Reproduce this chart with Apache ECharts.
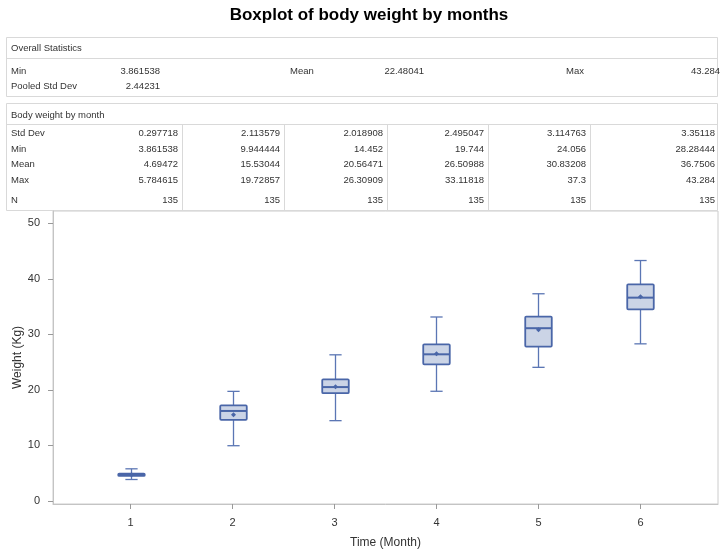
<!DOCTYPE html>
<html>
<head>
<meta charset="utf-8">
<title>Boxplot of body weight by months</title>
<script src="https://cdn.jsdelivr.net/npm/echarts@6/dist/echarts.min.js"></script>
<style>
  html, body { margin: 0; padding: 0; background: #fff; }
  #chart { width: 721px; height: 553px; }
</style>
</head>
<body>
<div id="chart"></div>
<script>
// months on the x axis
const months = [1, 2, 3, 4, 5, 6]
const yTicks = [0, 10, 20, 30, 40, 50]

// per month statistics (from the table)
const stdDev = [0.297718, 2.113579, 2.018908, 2.495047, 3.114763, 3.35118]
const minW = [3.861538, 9.944444, 14.452, 19.744, 24.056, 28.28444]
const meanW = [4.69472, 15.53044, 20.56471, 26.50988, 30.83208, 36.7506]
const maxW = [5.784615, 19.72857, 26.30909, 33.11818, 37.3, 43.284]
const countN = [135, 135, 135, 135, 135, 135]

// quartiles
const q1W = [4.5, 14.6, 19.4, 24.6, 27.8, 34.5]
const medianW = [4.7, 16.2, 20.5, 26.4, 31.1, 36.6]
const q3W = [4.9, 17.2, 21.9, 28.2, 33.2, 39.0]

// overall statistics
const overallMin = 3.861538
const overallMean = 22.48041
const overallMax = 43.284
const pooledStd = 2.44231

const fontFamily = '"Liberation Sans", Arial, sans-serif'
const tableFont = '9.5px ' + fontFamily
const textColor = '#333'
const lineColor = '#d9d9d9'
const boxStroke = '#4a66a8'
const whiskerStroke = '#5b76b4'
const boxFill = '#cbd4e6'

function cellText(str, x, y, align) {
  return {
    type: 'text',
    silent: true,
    style: { text: String(str), x: x, y: y, align: align || 'left', verticalAlign: 'middle', font: tableFont, fill: textColor }
  }
}

function line(x1, y1, x2, y2) {
  return {
    type: 'line',
    silent: true,
    shape: { x1: x1, y1: y1, x2: x2, y2: y2 },
    style: { stroke: lineColor, lineWidth: 1 }
  }
}

function buildTables() {
  const els = []
  // overall statistics
  els.push({ type: 'rect', silent: true, shape: { x: 6.5, y: 37.5, width: 711, height: 59 }, style: { fill: 'none', stroke: lineColor } })
  els.push(line(6.5, 58.5, 717.5, 58.5))
  els.push(cellText('Overall Statistics', 11, 48))
  els.push(cellText('Min', 11, 71))
  els.push(cellText(overallMin, 160, 71, 'right'))
  els.push(cellText('Mean', 290, 71))
  els.push(cellText(overallMean, 424, 71, 'right'))
  els.push(cellText('Max', 566, 71))
  els.push(cellText(overallMax, 720, 71, 'right'))
  els.push(cellText('Pooled Std Dev', 11, 86))
  els.push(cellText(pooledStd, 160, 86, 'right'))

  // body weight by month
  const rowLabels = ['Std Dev', 'Min', 'Mean', 'Max', 'N']
  const rows = [stdDev, minW, meanW, maxW, countN]
  const rowY = [133, 149, 164, 180, 200]
  const colRight = [178, 280, 383, 484, 586, 715]
  const colDiv = [182, 284, 387, 488, 590]
  els.push({ type: 'rect', silent: true, shape: { x: 6.5, y: 103.5, width: 711, height: 107 }, style: { fill: 'none', stroke: lineColor } })
  els.push(line(6.5, 124.5, 717.5, 124.5))
  els.push(cellText('Body weight by month', 11, 115))
  colDiv.forEach(x => els.push(line(x + 0.5, 124.5, x + 0.5, 210.5)))
  rowLabels.forEach((lab, r) => {
    els.push(cellText(lab, 11, rowY[r]))
    rows[r].forEach((v, c) => els.push(cellText(v, colRight[c], rowY[r], 'right')))
  })
  return els
}

const boxData = months.map((m, i) => [m, minW[i], q1W[i], medianW[i], q3W[i], maxW[i], meanW[i]])

function renderBox(params, api) {
  const x = api.value(0)
  const lo = api.coord([x, api.value(1)])
  const q1 = api.coord([x, api.value(2)])
  const med = api.coord([x, api.value(3)])
  const q3 = api.coord([x, api.value(4)])
  const hi = api.coord([x, api.value(5)])
  const mean = api.coord([x, api.value(6)])
  const bw = api.size([0.26, 0])[0]
  const cw = api.size([0.12, 0])[0]
  const cx = Math.round(lo[0]) + 0.5
  const lineStyle = { stroke: whiskerStroke, lineWidth: 1.3 }
  const d = 2.5
  return {
    type: 'group',
    children: [
      { type: 'line', shape: { x1: cx, y1: hi[1], x2: cx, y2: q3[1] }, style: lineStyle },
      { type: 'line', shape: { x1: cx, y1: q1[1], x2: cx, y2: lo[1] }, style: lineStyle },
      { type: 'line', shape: { x1: cx - cw / 2, y1: hi[1], x2: cx + cw / 2, y2: hi[1] }, style: lineStyle },
      { type: 'line', shape: { x1: cx - cw / 2, y1: lo[1], x2: cx + cw / 2, y2: lo[1] }, style: lineStyle },
      {
        type: 'rect',
        shape: { x: cx - bw / 2, y: q3[1], width: bw, height: q1[1] - q3[1], r: 1 },
        style: { fill: boxFill, stroke: boxStroke, lineWidth: 1.8 }
      },
      { type: 'line', shape: { x1: cx - bw / 2, y1: med[1], x2: cx + bw / 2, y2: med[1] }, style: { stroke: boxStroke, lineWidth: 2 } },
      {
        type: 'polygon',
        shape: { points: [[cx, mean[1] - d], [cx + d, mean[1]], [cx, mean[1] + d], [cx - d, mean[1]]] },
        style: { fill: boxStroke }
      }
    ]
  }
}

const option = {
  animation: false,
  backgroundColor: '#fff',
  title: {
    text: 'Boxplot of body weight by months',
    left: 364,
    top: 2,
    textAlign: 'center',
    textStyle: { fontSize: 17, fontWeight: 'bold', color: '#000', fontFamily: fontFamily }
  },
  graphic: buildTables(),
  grid: {
    left: 53,
    right: 3,
    top: 211,
    bottom: 49,
    outerBoundsMode: 'none',
    show: true,
    borderColor: '#cccccc',
    borderWidth: 1
  },
  xAxis: {
    type: 'value',
    min: 0.24,
    max: 6.76,
    name: 'Time (Month)',
    nameLocation: 'middle',
    nameGap: 33,
    nameMoveOverlap: false,
    nameTextStyle: { fontSize: 12, color: textColor, fontFamily: fontFamily },
    axisLine: { show: true, onZero: false, lineStyle: { color: '#c4c4c4' } },
    axisTick: { show: true, length: 5, customValues: months, lineStyle: { color: '#999' } },
    axisLabel: { customValues: months, margin: 13, fontSize: 11, color: textColor, fontFamily: fontFamily },
    splitLine: { show: false }
  },
  yAxis: {
    type: 'value',
    min: -0.55,
    max: 52.2,
    name: 'Weight (Kg)',
    nameLocation: 'middle',
    nameGap: 29,
    nameMoveOverlap: false,
    nameTextStyle: { fontSize: 12, color: textColor, fontFamily: fontFamily },
    axisLine: { show: true, onZero: false, lineStyle: { color: '#c4c4c4' } },
    axisTick: { show: true, length: 5, customValues: yTicks, lineStyle: { color: '#999' } },
    axisLabel: { customValues: yTicks, margin: 13, fontSize: 11, color: textColor, fontFamily: fontFamily },
    splitLine: { show: false }
  },
  series: [
    {
      type: 'custom',
      name: 'Weight',
      data: boxData,
      encode: { x: 0, y: [1, 2, 3, 4, 5, 6] },
      renderItem: renderBox,
      clip: false
    }
  ]
}

const chart = echarts.init(document.getElementById('chart'))
chart.setOption(option)

window.addEventListener('resize', () => {
  chart.resize()
})
</script>
</body>
</html>
